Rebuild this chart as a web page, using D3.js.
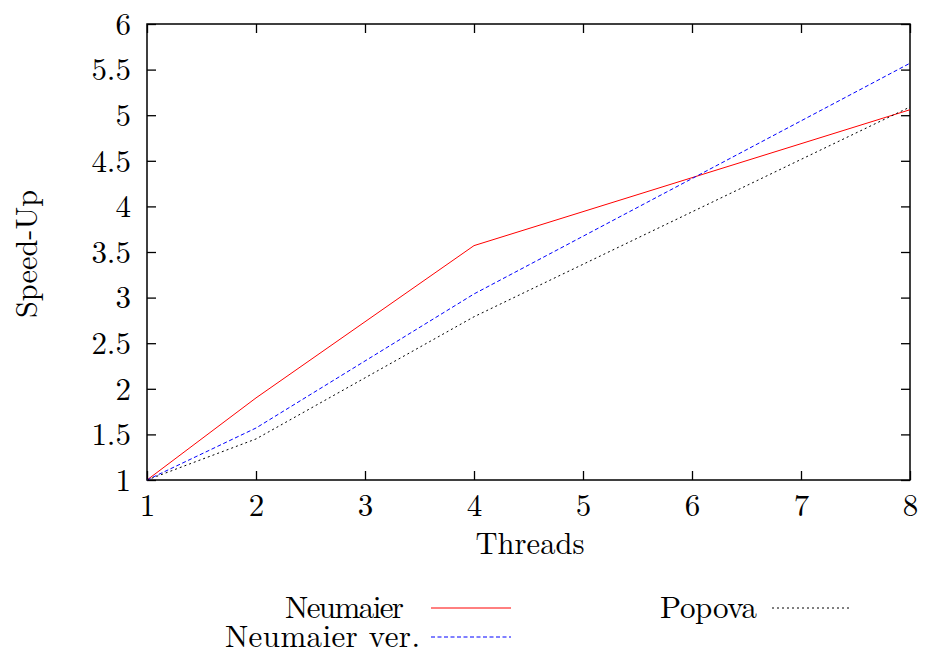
<!DOCTYPE html>
<html><head><meta charset="utf-8">
<script src="https://cdn.jsdelivr.net/npm/d3@7"></script>
<style>body{margin:0;background:#fff}svg{display:block}text{font-family:"DejaVu Serif","Liberation Serif",serif}</style>
</head><body>
<svg id="c" width="927" height="652"></svg>
<script>
const threads = [1, 2, 4, 8];
const neumaier = [1, 1.9, 3.57, 5.06];
const neumaierVer = [1, 1.57, 3.04, 5.57];
const popova = [1, 1.45, 2.79, 5.09];
const xTicks = [1, 2, 3, 4, 5, 6, 7, 8];
const yTicks = [1, 1.5, 2, 2.5, 3, 3.5, 4, 4.5, 5, 5.5, 6];
const seriesNames = ["Neumaier", "Neumaier ver.", "Popova"];

const svg = d3.select("#c");
const L = 147, R = 910, T = 24, B = 480;
const x = d3.scaleLinear().domain([1, 8]).range([L, R]);
const y = d3.scaleLinear().domain([1, 6]).range([B, T]);
const font = "'Latin Modern Roman','CMU Serif','DejaVu Serif',serif";
const fs = 31;

const tl = 9;
const gL = svg.append("g").attr("transform", `translate(${L},0)`)
  .call(d3.axisLeft(y).tickValues(yTicks).tickSize(-tl).tickPadding(tl + 7).tickFormat(d3.format("~g")));
const gR = svg.append("g").attr("transform", `translate(${R},0)`)
  .call(d3.axisRight(y).tickValues(yTicks).tickSize(-tl).tickFormat(""));
const gB = svg.append("g").attr("transform", `translate(0,${B})`)
  .call(d3.axisBottom(x).tickValues(xTicks).tickSize(-tl).tickFormat(d3.format("d")));
const gT = svg.append("g").attr("transform", `translate(0,${T})`)
  .call(d3.axisTop(x).tickValues(xTicks).tickSize(-tl).tickFormat(""));
[gL, gR, gB, gT].forEach(g => {
  g.select(".domain").remove();
  g.selectAll(".tick line").attr("stroke", "#000").attr("stroke-width", 1.3);
  g.selectAll("text").attr("font-size", fs).attr("fill", "#000").style("font-family", font);
});
gB.selectAll("text").attr("y", 36).attr("dy", null);
gL.selectAll("text").attr("dy", "0.33em");
svg.append("rect").attr("x", L).attr("y", T).attr("width", R - L).attr("height", B - T)
  .attr("fill", "none").attr("stroke", "#000").attr("stroke-width", 1.5);

svg.append("text").attr("x", 530).attr("y", 554).attr("text-anchor", "middle")
  .attr("font-size", fs).attr("textLength", 109).attr("lengthAdjust", "spacingAndGlyphs")
  .style("font-family", font).text("Threads");
svg.append("text").attr("transform", `translate(37,254) rotate(-90)`).attr("text-anchor", "middle")
  .attr("font-size", fs).attr("textLength", 128).attr("lengthAdjust", "spacingAndGlyphs")
  .style("font-family", font).text("Speed-Up");

const styles = [
  {color: "#ff0000", dash: null},
  {color: "#0000ff", dash: "4,2.5"},
  {color: "#000000", dash: "2,3"}
];
const data = [neumaier, neumaierVer, popova];
const line = d3.line().x((d, i) => x(threads[i])).y(d => y(d));
const plot = svg.append("g");
data.forEach((vals, k) => {
  plot.append("path").datum(vals).attr("d", line).attr("fill", "none")
    .attr("stroke", styles[k].color).attr("stroke-width", 1)
    .attr("stroke-dasharray", styles[k].dash);
});

const leg = [
  {tx: 404, ty: 608, len: 119, lx1: 431, lx2: 511},
  {tx: 420, ty: 637, len: 195, lx1: 431, lx2: 511},
  {tx: 757, ty: 608, len: 97, lx1: 772, lx2: 852}
];
leg.forEach((p, k) => {
  svg.append("text").attr("x", p.tx - p.len).attr("y", p.ty + 10)
    .attr("font-size", fs).attr("textLength", p.len).attr("lengthAdjust", "spacing")
    .style("font-family", font).text(seriesNames[k]);
  svg.append("line").attr("x1", p.lx1).attr("x2", p.lx2).attr("y1", p.ty).attr("y2", p.ty)
    .attr("stroke", styles[k].color).attr("stroke-width", 1).attr("stroke-dasharray", styles[k].dash);
});
</script>
</body></html>
